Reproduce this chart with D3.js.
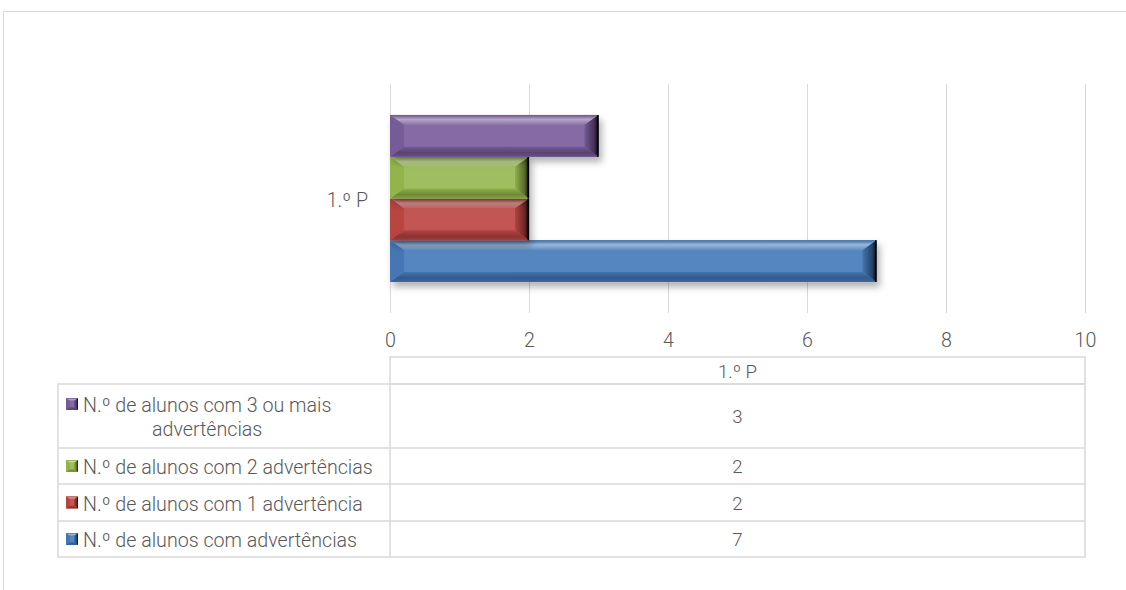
<!DOCTYPE html>
<html><head><meta charset="utf-8">
<script src="https://cdn.jsdelivr.net/npm/d3@7"></script>
<style>
html,body{margin:0;padding:0;background:#fff;}
svg text{font-family:Roboto,"Liberation Sans",Arial,sans-serif;font-weight:300;fill:#595959;}
</style></head>
<body>
<svg id="c" width="1126" height="590"></svg>
<script>
const categories = ["1.º P"];
const seriesNames = [
  "N.º de alunos com advertências",
  "N.º de alunos com 1 advertência",
  "N.º de alunos com 2 advertências",
  "N.º de alunos com 3 ou mais advertências"
];
const values = [7, 2, 2, 3];
const xTicks = [0, 2, 4, 6, 8, 10];
const colors = ["#4F81BD", "#C0504D", "#9BBB59", "#8064A2"];

(function () {
const svg = d3.select("#c");
const probe = svg.append("text").attr("font-size", 20).text(seriesNames[2]);
const FS = Math.min(24, 20 * 290 / probe.node().getComputedTextLength());
probe.remove();

const defs = svg.append("defs");
const f = defs.append("filter").attr("id","sh").attr("x","-5%").attr("y","-20%").attr("width","115%").attr("height","160%");
f.append("feDropShadow").attr("dx",3).attr("dy",5).attr("stdDeviation",3.5).attr("flood-color","#000").attr("flood-opacity",0.3);

svg.append("rect").attr("x",3.5).attr("y",11.5).attr("width",1200).attr("height",700)
  .attr("fill","none").attr("stroke","#D9D9D9").attr("stroke-width",1);

const pLeft = 390, pRight = 1085, pTop = 84, pBottom = 313;
const x = d3.scaleLinear().domain([0, 10]).range([pLeft, pRight]);
const yCat = d3.scaleBand().domain(categories).range([pTop, pBottom]);
const inner = d3.scaleBand().domain(d3.range(seriesNames.length).reverse())
  .range([0, yCat.bandwidth()]).paddingOuter(0.74);

svg.append("g").selectAll("line").data(xTicks).join("line")
  .attr("x1", d => Math.round(x(d)) + 0.5).attr("x2", d => Math.round(x(d)) + 0.5)
  .attr("y1", pTop).attr("y2", pBottom).attr("stroke", "#D9D9D9").attr("stroke-width", 1);

const axis = d3.axisBottom(x).tickValues(xTicks).tickSize(0).tickPadding(0);
const ag = svg.append("g").attr("transform", `translate(0,${pBottom + 21})`).call(axis);
ag.select(".domain").remove();
ag.attr("font-family", null).attr("font-size", null);
ag.selectAll("text").attr("font-size", FS).attr("fill", "#595959").attr("dy", "0.35em").attr("y", 6);

svg.selectAll(".cat").data(categories).join("text")
  .attr("x", pLeft - 22).attr("y", d => yCat(d) + yCat.bandwidth() / 2 + 8)
  .attr("text-anchor", "end").attr("font-size", FS).text(d => d);

function shade(c, k) { const h = d3.hsl(c); h.l = Math.max(0, Math.min(1, h.l + k)); return h.formatHex(); }

colors.forEach((c, i) => {
  const g = defs.append("linearGradient").attr("id", "gt" + i).attr("x1", 0).attr("y1", 0).attr("x2", 0).attr("y2", 1);
  g.append("stop").attr("offset", "0%").attr("stop-color", shade(c, -0.08));
  g.append("stop").attr("offset", "45%").attr("stop-color", shade(c, 0.2));
  g.append("stop").attr("offset", "100%").attr("stop-color", shade(c, 0.04));
  const gb = defs.append("linearGradient").attr("id", "gb" + i).attr("x1", 0).attr("y1", 0).attr("x2", 0).attr("y2", 1);
  gb.append("stop").attr("offset", "0%").attr("stop-color", shade(c, -0.05));
  gb.append("stop").attr("offset", "60%").attr("stop-color", shade(c, -0.16));
  gb.append("stop").attr("offset", "100%").attr("stop-color", shade(c, -0.1));
  const gr = defs.append("linearGradient").attr("id", "gr" + i).attr("x1", 0).attr("y1", 0).attr("x2", 1).attr("y2", 0);
  gr.append("stop").attr("offset", "0%").attr("stop-color", shade(c, -0.05));
  gr.append("stop").attr("offset", "70%").attr("stop-color", shade(c, -0.25));
  gr.append("stop").attr("offset", "100%").attr("stop-color", shade(c, -0.5));
});

function bevelBox(g, i, x0, x1, y0, y1, b, bx, edge) {
  const c = colors[i];
  g.append("rect").attr("x", x0).attr("y", y0).attr("width", x1 - x0).attr("height", y1 - y0).attr("fill", shade(c, 0.02));
  g.append("polygon").attr("points", [[x0, y0], [x1, y0], [x1 - bx, y0 + b], [x0 + bx, y0 + b]].join(" ")).attr("fill", `url(#gt${i})`);
  g.append("polygon").attr("points", [[x0, y1], [x1, y1], [x1 - bx, y1 - b], [x0 + bx, y1 - b]].join(" ")).attr("fill", `url(#gb${i})`);
  g.append("polygon").attr("points", [[x0, y0], [x0 + bx, y0 + b], [x0 + bx, y1 - b], [x0, y1]].join(" ")).attr("fill", shade(c, -0.04));
  g.append("polygon").attr("points", [[x1, y0], [x1 - bx, y0 + b], [x1 - bx, y1 - b], [x1, y1]].join(" ")).attr("fill", `url(#gr${i})`);
  if (edge) g.append("line").attr("x1", x1 - 0.75).attr("x2", x1 - 0.75).attr("y1", y0).attr("y2", y1).attr("stroke", shade(c, -0.55)).attr("stroke-width", 1.5);
}

const bars = svg.append("g").selectAll("g.bar")
  .data(values.map((v, i) => ({ v, i })))
  .join("g").attr("class", "bar")
  .attr("filter", "url(#sh)");

bars.each(function (d) {
  const y0 = yCat(categories[0]) + inner(d.i);
  bevelBox(d3.select(this), d.i, x(0), x(d.v), y0, y0 + inner.bandwidth(), 10, 14, true);
});

const tLeft = 58, tMid = 390, tRight = 1085;
const hTop = 357, rowEdges = [384, 448, 484, 521, 557];
const lineC = "#D9D9D9";
const tg = svg.append("g").attr("fill", "none").attr("stroke", lineC).attr("stroke-width", 1.5);
tg.append("rect").attr("x", tMid).attr("y", hTop).attr("width", tRight - tMid).attr("height", rowEdges[0] - hTop);
tg.append("rect").attr("x", tLeft).attr("y", rowEdges[0]).attr("width", tRight - tLeft).attr("height", rowEdges[4] - rowEdges[0]);
tg.selectAll("line.r").data(rowEdges.slice(1, 4)).join("line")
  .attr("x1", tLeft).attr("x2", tRight).attr("y1", d => d).attr("y2", d => d);
tg.append("line").attr("x1", tMid).attr("x2", tMid).attr("y1", rowEdges[0]).attr("y2", rowEdges[4]);

const cx = (tMid + tRight) / 2;
svg.selectAll(".hdr").data(categories).join("text")
  .attr("x", cx).attr("y", (hTop + rowEdges[0]) / 2 + 7).attr("text-anchor", "middle").attr("font-size", FS - 1).text(d => d);

const order = d3.range(seriesNames.length).reverse();
order.forEach((si, r) => {
  const ry0 = rowEdges[r], ry1 = rowEdges[r + 1], my = (ry0 + ry1) / 2;
  svg.append("text").attr("x", cx).attr("y", my + 7).attr("text-anchor", "middle").attr("font-size", FS - 1).text(values[si]);
  const name = seriesNames[si];
  let lines = [name];
  if (name.length > 32) {
    const words = name.split(" ");
    lines = [words.slice(0, -1).join(" "), words[words.length - 1]];
  }
  const ly = lines.length === 1 ? my : my - 12;
  bevelBox(svg.append("g"), si, 66, 78, ly - 6, ly + 6, 3, 4, false);
  const t1 = svg.append("text").attr("x", 83).attr("y", ly + 8).attr("font-size", FS).text(lines[0]);
  if (lines.length > 1) {
    const w = t1.node().getComputedTextLength();
    svg.append("text").attr("x", 83 + w / 2).attr("y", ly + 32).attr("text-anchor", "middle").attr("font-size", FS).text(lines[1]);
  }
});
})();
</script>
</body></html>
